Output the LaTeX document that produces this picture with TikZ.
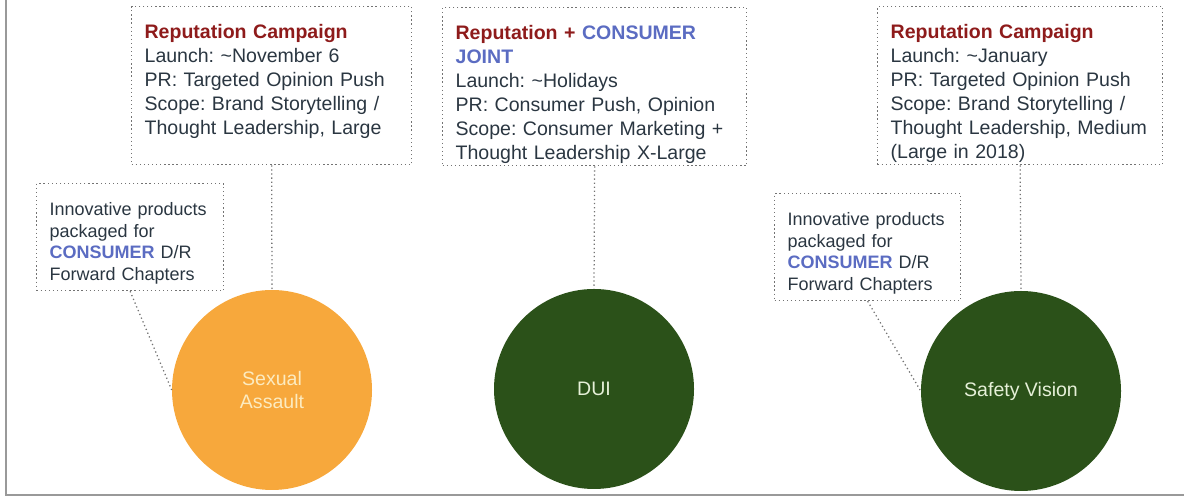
\documentclass[tikz,border=0pt]{standalone}
\usepackage{fontspec}
\setmainfont{Liberation Sans}
\frenchspacing
\usetikzlibrary{positioning}

\definecolor{campred}{HTML}{8E1B1B}
\definecolor{consblue}{HTML}{5B6CC2}
\definecolor{bodytext}{HTML}{2A3641}
\definecolor{topicorange}{HTML}{F7A83C}
\definecolor{topicgreen}{HTML}{2B5119}
\definecolor{paleorange}{HTML}{FCEBC0}
\definecolor{palegreen}{HTML}{E6F0D8}

\begin{document}
\begin{tikzpicture}[
  plan/.style={draw=black!55, dotted, line width=0.9pt, anchor=north west, align=left,
    inner xsep=0.325cm, inner ysep=0pt, text=bodytext, text height=0.8cm},
  bigplan/.style={plan, text depth=3.15cm, font=\fontsize{13.9}{17.07}\selectfont},
  smallplan/.style={plan, text depth=1.875cm, font=\fontsize{12.8}{15.4}\selectfont},
  topic/.style={circle, minimum size=5cm, inner sep=0pt, align=center,
    font=\fontsize{13.9}{16.3}\selectfont},
  link/.style={draw=black!55, dotted, line width=0.9pt},
  frame/.style={draw=gray!80, line width=1.4pt}
]

\useasboundingbox (0,0) rectangle (29.6,12.425);
\draw[frame] (0.15,12.425) -- (0.15,0.05) -- (29.6,0.05);

% campaign boxes
\node[bigplan, text width=6.35cm] (campA) at (3.275,12.275)
  {\textbf{\color{campred}Reputation Campaign}\\
   Launch: \textasciitilde November 6\\
   PR: Targeted Opinion Push\\
   Scope: Brand Storytelling /\\
   Thought Leadership, Large};
\node[bigplan, text width=6.95cm] (campB) at (11.05,12.25)
  {\textbf{\color{campred}Reputation + \color{consblue}CONSUMER}\\
   \textbf{\color{consblue}JOINT}\\
   Launch: \textasciitilde Holidays\\
   PR: Consumer Push, Opinion\\
   Scope: Consumer Marketing +\\
   Thought Leadership X-Large};
\node[bigplan, text width=6.475cm] (campC) at (21.925,12.275)
  {\textbf{\color{campred}Reputation Campaign}\\
   Launch: \textasciitilde January\\
   PR: Targeted Opinion Push\\
   Scope: Brand Storytelling /\\
   Thought Leadership, Medium\\
   (Large in 2018)};

% product boxes
\node[smallplan, text width=4.025cm] (prodA) at (0.9,7.85)
  {Innovative products\\
   packaged for\\
   \textbf{\color{consblue}CONSUMER} D/R\\
   Forward Chapters};
\node[smallplan, text width=4.0cm] (prodC) at (19.35,7.6)
  {Innovative products\\
   packaged for\\
   \textbf{\color{consblue}CONSUMER} D/R\\
   Forward Chapters};

% topics
\node[topic, fill=topicorange, text=paleorange] (assault) at (6.8,2.675) {Sexual\\Assault};
\node[topic, fill=topicgreen, text=palegreen] (dui) at (14.85,2.7) {DUI};
\node[topic, fill=topicgreen, text=palegreen] (vision) at (25.525,2.65) {Safety Vision};

\draw[link] (campA.south) -- (assault.north);
\draw[link] (campB.south) -- (dui.north);
\draw[link] (campC.south) -- (vision.north);
\draw[link] (prodA.south) -- (assault.west);
\draw[link] (prodC.south) -- (vision.west);

\end{tikzpicture}
\end{document}
